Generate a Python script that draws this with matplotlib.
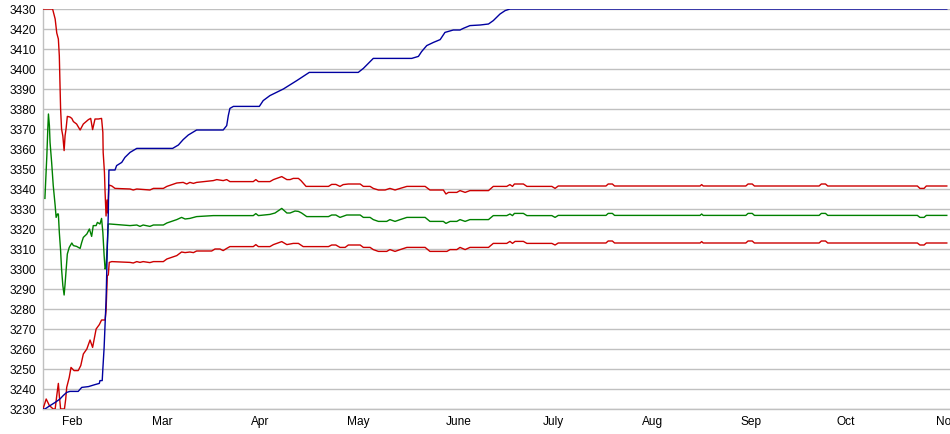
import matplotlib
matplotlib.use("Agg")
import matplotlib.pyplot as plt
import matplotlib.dates as mdates
import pandas as pd
import numpy as np

# ---------------- data (days since 2010-01-26, value) ----------------
start_date = "2010-01-26"

blue_days = [0, 0.6, 2.2, 3.8, 5.3, 6.3, 7.4, 8.4, 11.0, 12.1, 14.2, 16.25, 17.6, 17.8, 18.5,
             18.7, 19.1, 19.4, 19.7, 19.9, 20.1, 20.4, 20.6, 22.5, 23.0, 24.6, 25.6, 27.2, 29.3,
             40.5, 42.3, 43.8, 45.4, 48.0, 56.3, 57.4, 57.9, 58.4, 59.5, 67.6, 68.8, 70.9, 75.1,
             79.3, 83.2, 98.5, 100.1, 103.2, 115.2, 117.3, 118.3, 119.9, 122.0, 124.1, 125.6,
             128.2, 130.3, 131.3, 133.4, 136.6, 139.2, 140.7, 142.8, 144.4, 145.9, 282.4]
blue_vals = [3230, 3230, 3231.7, 3233.3, 3235, 3236.7, 3238.3, 3238.8, 3238.8, 3240.8, 3241.2,
             3242.2, 3242.8, 3244.2, 3244.2, 3250, 3260.8, 3272.5, 3284, 3297.5, 3311, 3327.5,
             3349.5, 3349.5, 3351.7, 3353.3, 3355.8, 3358.3, 3360.3, 3360.3, 3362, 3364.7, 3367,
             3369.5, 3369.5, 3371.7, 3376.7, 3380.3, 3381.3, 3381.3, 3384.2, 3386.7, 3390,
             3394.2, 3398.3, 3398.3, 3400.3, 3405.3, 3405.3, 3406.3, 3408.7, 3411.7, 3413.3,
             3414.7, 3418.3, 3419.5, 3419.5, 3420.3, 3421.7, 3422, 3422.5, 3424.2, 3427.5,
             3429.2, 3430, 3430]

upper_days = [0, 3.0, 3.8, 4.3, 4.8, 5.1, 5.3, 5.5, 5.8, 6.2, 6.6, 6.9, 7.2, 7.6, 8.4, 9.0, 9.5,
              10.5, 11.6, 12.6, 14.2, 14.9, 15.5, 16.25, 17.3, 18.3, 18.7, 18.8, 19.2, 19.4,
              19.7, 20.0, 20.2, 20.6, 21.5, 22.5, 27.2, 28.2, 29.3, 33.4, 34.5, 37.6, 38.7,
              41.8, 43.8, 44.9, 45.9, 47.0, 48.0, 53.2, 54.3, 56.3, 57.4, 58.4, 65.7, 66.5,
              67.3, 70.9, 72.0, 74.6, 76.2, 77.2, 78.2, 79.8, 80.6, 82.2, 89.2, 90.2, 91.5,
              92.8, 93.8, 95.4, 99.1, 100.1, 102.2, 103.2, 104.8, 106.9, 108.4, 110.0, 111.6,
              113.7, 119.4, 120.9, 125.1, 125.9, 126.7, 129.3, 130.3, 131.9, 133.4, 139.2,
              140.7, 144.9, 145.9, 146.7, 147.3, 150.1, 151.2, 159.0, 160.0, 161.0, 175.9,
              176.6, 177.9, 178.6, 205.3, 205.8, 206.3, 219.6, 220.3, 221.6, 222.3, 242.5,
              243.2, 244.5, 245.2, 273.2, 274.0, 275.3, 276.0, 282.4]
upper_vals = [3430, 3430, 3425, 3418, 3415, 3406.5, 3393, 3380, 3370, 3366.5, 3359.2, 3366.7,
              3370, 3376.3, 3376, 3375.3, 3373.7, 3372.5, 3369.5, 3372.5, 3374.7, 3375.3,
              3369.7, 3375, 3375, 3375.3, 3368.3, 3358.3, 3348.3, 3338.3, 3326.5, 3334.5, 3328,
              3342, 3341.5, 3340.3, 3340, 3339.5, 3340, 3339.5, 3340.3, 3340.3, 3341.3, 3343,
              3343.3, 3342.5, 3343.3, 3342.8, 3343.3, 3344.2, 3344.7, 3344.2, 3344.7, 3343.7,
              3343.7, 3344.7, 3343.7, 3343.7, 3344.7, 3346.2, 3344.7, 3344.7, 3345.3, 3345.3,
              3344.2, 3341.3, 3341.3, 3342.3, 3342.3, 3341.3, 3342.2, 3342.5, 3342.5, 3341.3,
              3341.3, 3340.3, 3339.5, 3339.5, 3340.3, 3339.5, 3340.3, 3341.3, 3341.3, 3339.5,
              3339.5, 3337.5, 3338.3, 3338.3, 3339.2, 3338.3, 3339.2, 3339.2, 3341.3, 3341.3,
              3342.2, 3341.3, 3342.5, 3342.5, 3341.3, 3341.3, 3340.3, 3341.5, 3341.5, 3342.5,
              3342.5, 3341.5, 3341.5, 3342.2, 3341.5, 3341.5, 3342.5, 3342.5, 3341.5, 3341.5,
              3342.5, 3342.5, 3341.5, 3341.5, 3340.3, 3340.3, 3341.5, 3341.5]

lower_days = [0, 1.0, 2.0, 3.2, 3.8, 4.3, 4.8, 5.1, 5.5, 6.7, 7.1, 7.4, 8.2, 8.75, 9.7, 11.0,
              11.8, 12.6, 13.7, 14.7, 15.5, 16.6, 17.6, 18.3, 19.4, 19.7, 20.1, 20.4, 20.7,
              21.5, 27.2, 28.2, 29.3, 30.3, 31.3, 33.4, 34.5, 37.6, 38.7, 41.8, 43.3, 44.4,
              45.9, 47.0, 48.0, 52.7, 53.75, 55.3, 56.3, 57.4, 58.4, 65.7, 66.5, 67.3, 70.9,
              72.0, 74.6, 76.2, 78.2, 79.8, 81.3, 89.2, 90.2, 91.5, 92.8, 94.4, 95.4, 99.1,
              100.1, 102.2, 103.2, 104.8, 107.4, 108.4, 110.0, 111.6, 113.7, 119.4, 120.9,
              126.2, 127.2, 129.3, 130.3, 131.9, 133.4, 139.2, 140.7, 144.9, 145.9, 146.7,
              147.5, 150.1, 151.2, 159.0, 160.0, 161.0, 175.9, 176.6, 177.9, 178.6, 205.3,
              205.8, 206.3, 219.6, 220.3, 221.6, 222.3, 242.5, 243.2, 244.5, 245.2, 273.2,
              274.0, 275.3, 276.0, 282.4]
lower_vals = [3230, 3235, 3231.7, 3230, 3230, 3236.7, 3242.8, 3236.7, 3230, 3230, 3235, 3240.8,
              3245.8, 3250.8, 3249.2, 3249.2, 3251.7, 3257.5, 3260, 3264.5, 3260.8, 3270,
              3272.2, 3274.5, 3274.5, 3279.2, 3296.7, 3297, 3303.3, 3303.7, 3303.3, 3303,
              3303.7, 3303.3, 3303.7, 3303.2, 3303.7, 3303.7, 3305, 3306.7, 3308.5, 3308.2,
              3308.5, 3308.2, 3309, 3309, 3310, 3310, 3309.2, 3310.3, 3311.2, 3311.2, 3312.2,
              3311.2, 3311.2, 3312.2, 3313.7, 3312.2, 3312.8, 3312.8, 3311.2, 3311.2, 3312,
              3312, 3310.8, 3310.8, 3312, 3312, 3310.8, 3310.8, 3309.7, 3308.8, 3308.8, 3309.7,
              3308.8, 3309.7, 3310.8, 3310.8, 3308.8, 3308.8, 3309.7, 3309.7, 3310.8, 3309.7,
              3310.8, 3310.8, 3312.8, 3312.8, 3313.8, 3312.8, 3313.8, 3313.8, 3312.8, 3312.8,
              3312, 3313, 3313, 3314, 3314, 3313, 3313, 3313.7, 3313, 3313, 3314, 3314, 3313,
              3313, 3314, 3314, 3313, 3313, 3312, 3312, 3313, 3313]

green_days = [0.6, 0.8, 1.2, 1.5, 1.7, 2.0, 2.2, 2.7, 3.2, 3.8, 4.1, 4.5, 4.8, 5.1, 5.5, 5.8,
              6.2, 6.6, 6.9, 7.2, 7.6, 8.2, 9.0, 9.5, 10.5, 11.6, 12.1, 12.6, 13.7, 14.5, 15.2,
              15.7, 16.6, 17.0, 17.8, 18.3, 18.7, 19.1, 19.4, 19.7, 20.1, 20.4, 20.9, 27.2,
              29.3, 30.3, 31.3, 33.4, 34.5, 37.6, 38.7, 41.8, 43.3, 44.4, 45.9, 48.0, 53.2,
              65.7, 66.5, 67.3, 70.9, 72.5, 74.6, 76.2, 77.2, 78.75, 79.8, 80.8, 82.4, 89.2,
              90.2, 91.5, 92.8, 94.9, 99.1, 100.1, 102.2, 103.2, 104.8, 107.4, 108.4, 110.0,
              111.6, 113.7, 119.4, 120.9, 125.1, 125.9, 127.2, 129.3, 130.3, 131.9, 133.4,
              139.2, 140.7, 144.9, 145.9, 146.7, 147.3, 150.1, 151.2, 159.0, 160.0, 161.0,
              175.9, 176.6, 177.9, 178.6, 205.3, 205.8, 206.3, 219.6, 220.3, 221.6, 222.3,
              242.5, 243.2, 244.5, 245.2, 273.2, 274.0, 275.3, 276.0, 282.4]
green_vals = [3335.3, 3342.5, 3356.7, 3370, 3377.5, 3371.7, 3363.3, 3353.3, 3341.7, 3331.7,
              3325.8, 3327.5, 3327.5, 3318.3, 3309.2, 3300, 3291.7, 3287, 3292.5, 3299, 3307.5,
              3310.8, 3313, 3311.7, 3311.3, 3310.3, 3313.3, 3315.8, 3317.5, 3320, 3316.3,
              3321.7, 3321.7, 3323.3, 3322.5, 3325.3, 3318.3, 3306.7, 3300, 3301, 3312.5,
              3322.5, 3322.5, 3321.7, 3322, 3321.3, 3322, 3321.3, 3322, 3322, 3323, 3324.7,
              3325.8, 3325, 3325.3, 3326.2, 3326.7, 3326.7, 3327.7, 3326.7, 3327.3, 3328,
              3330.3, 3328, 3328, 3329, 3328.8, 3328, 3326.2, 3326.2, 3327, 3327, 3325.8, 3327,
              3327, 3325.8, 3325.8, 3324.7, 3323.8, 3323.8, 3324.7, 3323.8, 3324.7, 3325.8,
              3325.8, 3323.8, 3323.8, 3322.8, 3323.8, 3323.8, 3324.7, 3323.8, 3324.7, 3324.7,
              3326.7, 3326.7, 3327.5, 3326.7, 3327.8, 3327.8, 3326.7, 3326.7, 3325.8, 3326.8,
              3326.8, 3327.8, 3327.8, 3326.8, 3326.8, 3327.5, 3326.8, 3326.8, 3327.8, 3327.8,
              3326.8, 3326.8, 3327.8, 3327.8, 3326.8, 3326.8, 3325.8, 3325.8, 3326.8, 3326.8]

month_labels = ["Feb", "Mar", "Apr", "May", "June", "July", "Aug", "Sep", "Oct", "Nov"]
y_min, y_max, y_step = 3230, 3430, 10
x_span_days = 283.4

# ---------------- plotting ----------------
base = pd.Timestamp(start_date)


def to_dates(days):
    return base + pd.to_timedelta(np.asarray(days, dtype=float), unit="D")


plt.rcParams["font.family"] = ["Liberation Sans", "DejaVu Sans"]

fig = plt.figure(figsize=(9.5, 4.35), dpi=100)
ax = fig.add_axes([43 / 950, 25 / 435, 1 - 43 / 950, 400 / 435])

grid_col = "#c0c0c0"
ax.plot(to_dates(green_days), green_vals, color="#008000", lw=1.0, zorder=3)
ax.plot(to_dates(lower_days), lower_vals, color="#cc0000", lw=1.0, zorder=3)
ax.plot(to_dates(upper_days), upper_vals, color="#cc0000", lw=1.0, zorder=3)
ax.plot(to_dates(blue_days), blue_vals, color="#0000a0", lw=1.0, zorder=4)

ax.set_xlim(base, base + pd.Timedelta(days=x_span_days))
ax.set_ylim(y_min, y_max)
ax.set_yticks(np.arange(y_min, y_max + 1, y_step))
ax.yaxis.grid(True, color=grid_col, lw=1.0)
ax.set_axisbelow(True)

ax.xaxis.set_major_locator(mdates.MonthLocator())
ax.xaxis.set_major_formatter(
    plt.FuncFormatter(lambda v, pos: month_labels[mdates.num2date(v).month - 2]
                      if 2 <= mdates.num2date(v).month <= 11 else ""))
ax.tick_params(axis="x", length=0, pad=4, labelsize=8.6, colors="#000000")
ax.tick_params(axis="y", length=0, pad=5, labelsize=8.6, colors="#000000")
for lbl in ax.get_xticklabels():
    lbl.set_horizontalalignment("left")

for side in ["top", "right"]:
    ax.spines[side].set_visible(False)
ax.spines["left"].set_color(grid_col)
ax.spines["bottom"].set_color(grid_col)
ax.spines["left"].set_linewidth(1.0)
ax.spines["bottom"].set_linewidth(1.0)

fig.savefig("out.png", dpi=100)
